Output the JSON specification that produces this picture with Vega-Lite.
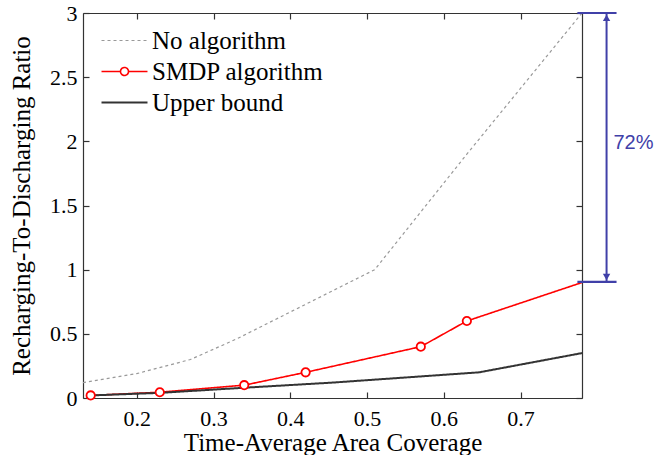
{
  "$schema": "https://vega.github.io/schema/vega-lite/v6.json",
  "width": 499,
  "height": 385,
  "padding": {"left": 9, "top": 2, "right": 0, "bottom": 0},
  "background": "white",
  "config": {
    "view": {"stroke": null},
    "font": "Liberation Serif",
    "axis": {
      "domainColor": "#333333",
      "domainWidth": 1.2,
      "tickColor": "#333333",
      "tickWidth": 1.2,
      "tickSize": -6,
      "grid": false,
      "labelFont": "Liberation Serif",
      "labelFontSize": 22,
      "labelColor": "#000000",
      "titleFont": "Liberation Serif",
      "titleFontSize": 25,
      "titleFontWeight": "normal",
      "titleColor": "#000000"
    }
  },
  "resolve": {"axis": {"x": "independent", "y": "independent"}},
  "layer": [
    {
      "data": {
        "values": [
          {"series": "No algorithm", "x": 0.13, "y": 0.12},
          {"series": "No algorithm", "x": 0.2, "y": 0.19},
          {"series": "No algorithm", "x": 0.27, "y": 0.3},
          {"series": "No algorithm", "x": 0.33, "y": 0.46},
          {"series": "No algorithm", "x": 0.42, "y": 0.73},
          {"series": "No algorithm", "x": 0.51, "y": 1.0},
          {"series": "No algorithm", "x": 0.57, "y": 1.45},
          {"series": "No algorithm", "x": 0.63, "y": 1.9},
          {"series": "No algorithm", "x": 0.78, "y": 3.0},
          {"series": "SMDP algorithm", "x": 0.14, "y": 0.02},
          {"series": "SMDP algorithm", "x": 0.23, "y": 0.045},
          {"series": "SMDP algorithm", "x": 0.34, "y": 0.1},
          {"series": "SMDP algorithm", "x": 0.42, "y": 0.2},
          {"series": "SMDP algorithm", "x": 0.57, "y": 0.4},
          {"series": "SMDP algorithm", "x": 0.63, "y": 0.6},
          {"series": "SMDP algorithm", "x": 0.78, "y": 0.9},
          {"series": "Upper bound", "x": 0.14, "y": 0.02},
          {"series": "Upper bound", "x": 0.23, "y": 0.04},
          {"series": "Upper bound", "x": 0.34, "y": 0.08},
          {"series": "Upper bound", "x": 0.455, "y": 0.12},
          {"series": "Upper bound", "x": 0.646, "y": 0.2},
          {"series": "Upper bound", "x": 0.78, "y": 0.35}
        ]
      },
      "mark": {"type": "line"},
      "encoding": {
        "x": {
          "field": "x", "type": "quantitative",
          "scale": {"domain": [0.13, 0.78], "nice": false, "zero": false},
          "axis": {"orient": "bottom", "values": [0.2, 0.3, 0.4, 0.5, 0.6, 0.7], "format": "~g", "labelPadding": 16, "title": "Time-Average Area Coverage", "titlePadding": 1}
        },
        "y": {
          "field": "y", "type": "quantitative",
          "scale": {"domain": [0, 3], "nice": false, "zero": false},
          "axis": {"orient": "left", "values": [0, 0.5, 1, 1.5, 2, 2.5, 3], "format": "~g", "labelPadding": 12, "title": "Recharging-To-Discharging Ratio", "titlePadding": 15}
        },
        "color": {
          "field": "series", "type": "nominal",
          "scale": {"domain": ["No algorithm", "SMDP algorithm", "Upper bound"], "range": ["#999999", "#ff0000", "#333333"]},
          "legend": {
            "orient": "none", "legendX": 29, "legendY": 15, "title": null, "padding": 0,
            "labelFont": "Liberation Serif", "labelFontSize": 25, "labelColor": "#000000", "labelLimit": 400,
            "labelOffset": 15, "rowPadding": 5, "symbolSize": 235, "symbolType": "M-3,0H3",
            "encode": {"symbols": {"update": {
              "shape": {"signal": "datum.value === 'SMDP algorithm' ? 'M-3,0H-0.52M0.52,0H3M0.52,0A0.52,0.52,0,1,1,-0.52,0A0.52,0.52,0,1,1,0.52,0' : 'M-3,0H3'"},
              "strokeWidth": {"signal": "datum.value === 'SMDP algorithm' ? 2 : 1.3"},
              "fill": {"value": "transparent"}
            }}}
          }
        },
        "strokeDash": {
          "field": "series", "type": "nominal",
          "scale": {"domain": ["No algorithm", "SMDP algorithm", "Upper bound"], "range": [[3, 3], [1, 0], [1, 0]]},
          "legend": {
            "orient": "none", "legendX": 29, "legendY": 15, "title": null, "padding": 0,
            "labelFont": "Liberation Serif", "labelFontSize": 25, "labelColor": "#000000", "labelLimit": 400,
            "labelOffset": 15, "rowPadding": 5, "symbolSize": 235, "symbolType": "M-3,0H3"
          }
        },
        "strokeWidth": {
          "field": "series", "type": "nominal",
          "scale": {"domain": ["No algorithm", "SMDP algorithm", "Upper bound"], "range": [1.2, 2, 1.3]},
          "legend": null
        }
      }
    },
    {
      "data": {
        "values": [
          {"series": "SMDP algorithm", "x": 0.14, "y": 0.02},
          {"series": "SMDP algorithm", "x": 0.23, "y": 0.045},
          {"series": "SMDP algorithm", "x": 0.34, "y": 0.1},
          {"series": "SMDP algorithm", "x": 0.42, "y": 0.2},
          {"series": "SMDP algorithm", "x": 0.57, "y": 0.4},
          {"series": "SMDP algorithm", "x": 0.63, "y": 0.6}
        ]
      },
      "mark": {"type": "point", "shape": "circle", "filled": false, "fill": "white", "fillOpacity": 1, "stroke": "#ff0000", "strokeWidth": 1.8, "size": 70, "opacity": 1},
      "encoding": {
        "x": {"field": "x", "type": "quantitative", "axis": {"orient": "top", "values": [0.2, 0.3, 0.4, 0.5, 0.6, 0.7], "labels": false, "title": null}},
        "y": {"field": "y", "type": "quantitative", "axis": {"orient": "right", "values": [0, 0.5, 1, 1.5, 2, 2.5, 3], "labels": false, "title": null}}
      }
    },
    {
      "data": {"values": [{"x": 0.812, "y": 0.905, "y2": 3.0}]},
      "mark": {"type": "rule", "color": "#4040a8", "strokeWidth": 2},
      "encoding": {
        "x": {"field": "x", "type": "quantitative", "axis": null},
        "y": {"field": "y", "type": "quantitative", "axis": null},
        "y2": {"field": "y2"}
      }
    },
    {
      "data": {"values": [{"x": 0.774, "x2": 0.825, "y": 3.0}, {"x": 0.774, "x2": 0.825, "y": 0.905}]},
      "mark": {"type": "rule", "color": "#4040a8", "strokeWidth": 2.2},
      "encoding": {
        "x": {"field": "x", "type": "quantitative", "axis": null},
        "x2": {"field": "x2"},
        "y": {"field": "y", "type": "quantitative", "axis": null}
      }
    },
    {
      "data": {"values": [{"x": 0.812, "y": 2.962, "shape": "triangle-up"}, {"x": 0.812, "y": 0.943, "shape": "triangle-down"}]},
      "mark": {"type": "point", "filled": true, "color": "#4040a8", "size": 55, "opacity": 1},
      "encoding": {
        "x": {"field": "x", "type": "quantitative", "axis": null},
        "y": {"field": "y", "type": "quantitative", "axis": null},
        "shape": {"field": "shape", "type": "nominal", "scale": null, "legend": null}
      }
    },
    {
      "data": {"values": [{"x": 0.821, "y": 1.99, "label": "72%"}]},
      "mark": {"type": "text", "align": "left", "baseline": "middle", "font": "Liberation Sans", "fontSize": 20, "color": "#4040a8"},
      "encoding": {
        "x": {"field": "x", "type": "quantitative", "axis": null},
        "y": {"field": "y", "type": "quantitative", "axis": null},
        "text": {"field": "label"}
      }
    }
  ]
}
